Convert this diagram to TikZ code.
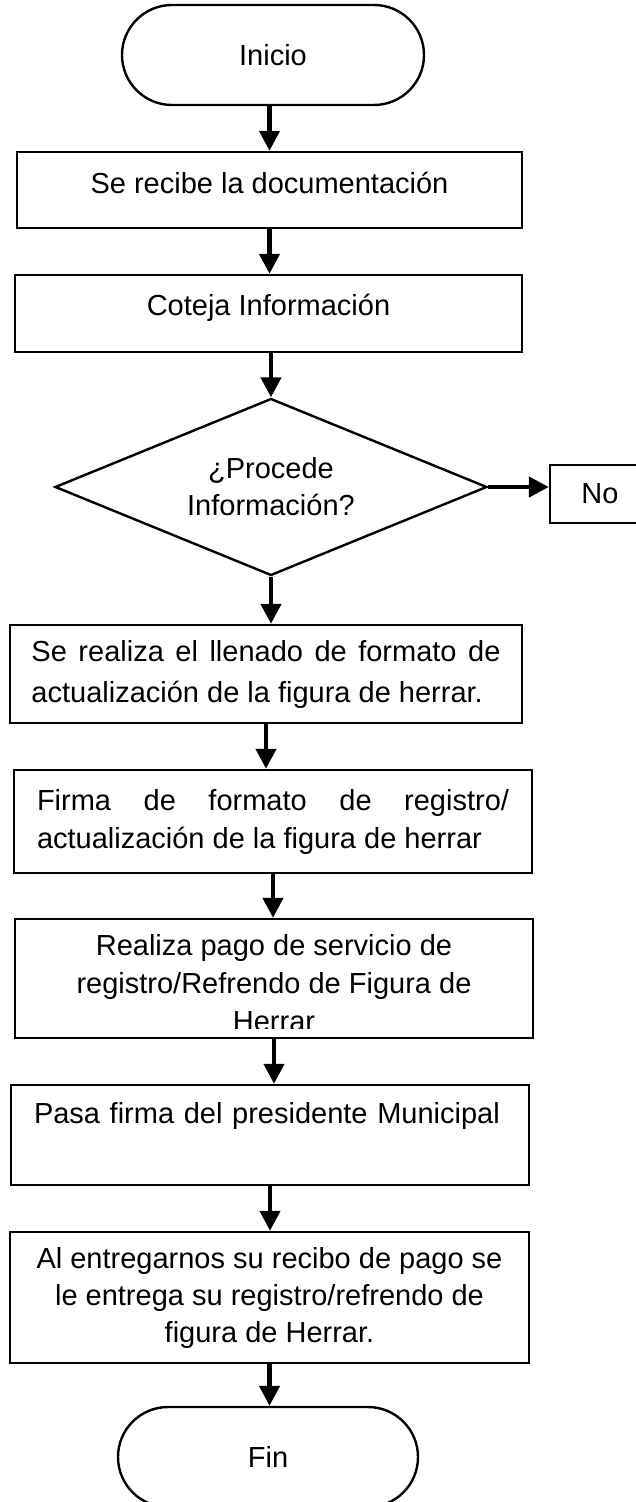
\documentclass[tikz,border=0pt]{standalone}
\usepackage{fontspec}
\setmainfont{Liberation Sans}
\usetikzlibrary{shapes.geometric, arrows.meta}
\hyphenpenalty=10000

\begin{document}
\begin{tikzpicture}[x=0.5pt, y=-0.5pt, >={Triangle[length=10pt, width=10pt]}]

        \tikzset{every node/.style={draw=black, line width=1.2pt, inner sep=2pt, font=\fontsize{14.5}{19}\selectfont},
                 terminal/.style={rectangle, rounded corners=25pt, minimum width=151pt, minimum height=50pt},
                 process/.style={rectangle, minimum width=259pt},
                 decision/.style={diamond, aspect=2.44, inner sep=0pt, minimum width=216pt, minimum height=88.5pt, align=center},
                 flow/.style={->, line width=2.2pt}}

        % page, same size as the scan
        \useasboundingbox (0, 0) rectangle (636, 1502);
        \fill[white] (0, 0) rectangle (636, 1502);

        % start
        \node (inicio) at (273, 55) [terminal] {Inicio};

        % first two steps, text sits a bit high in the box
        \node (recibe) at (269.5, 190) [process, minimum width=252.5pt, minimum height=38pt, text depth=7pt] {Se recibe la documentación};
        \node (coteja) at (268.5, 313.5) [process, minimum width=253.5pt, minimum height=38.5pt, text depth=8.7pt] {Coteja Información};

        % decision, and the no branch to the right
        \node (procede) at (271, 487) [decision, font=\fontsize{14.5}{18.5}\selectfont] {¿Procede\\Información?};
        \node (no) at (600, 494) [rectangle, minimum width=50pt, minimum height=29pt] {No};

        % justified two line boxes
        \node (llenado) at (266, 674) [process, minimum width=256pt, minimum height=49pt, text width=234.5pt, align=justify, font=\fontsize{14.5}{20.5}\selectfont] {Se realiza el llenado de formato de\linebreak actualización de la figura de herrar.};
        \node (firma) at (273, 821.5) [process, minimum width=259pt, minimum height=51.5pt, text width=236pt, align=justify, font=\fontsize{14.5}{19}\selectfont] {Firma de formato de registro/\linebreak actualización de la figura de herrar};

        % payment box, its last line is cut off above the border
        \node (pago) at (274, 978.5) [process, minimum height=59.5pt] {};
        \begin{scope}
            \clip (pago.north west) rectangle ([yshift=5.5pt]pago.south east);
            \node (pagotexto) at (274, 983) [draw=none, align=center] {Realiza pago de servicio de\\registro/Refrendo de Figura de\\Herrar};
        \end{scope}

        % signature, text at the top of the box
        \node (municipal) at (270, 1135) [process, minimum height=50pt, text width=236pt, align=left, text depth=22.5pt] {Pasa firma del presidente Municipal};

        % delivery
        \node (entrega) at (269.5, 1297.5) [process, minimum width=259.5pt, minimum height=65.5pt, align=center, font=\fontsize{14.5}{18.5}\selectfont] {Al entregarnos su recibo de pago se\\le entrega su registro/refrendo de\\figura de Herrar.};

        % end
        \node (fin) at (268, 1457) [terminal, minimum width=150pt] {Fin};

        % edges, straight down
        \draw[flow] (recibe.north |- inicio.south) -- (recibe.north);
        \draw[flow] (recibe.south) -- (recibe.south |- coteja.north);
        \draw[flow] (procede.north |- coteja.south) -- (procede.north);
        \draw[flow] (procede.south) -- (procede.south |- llenado.north);
        \draw[flow] (llenado.south) -- (llenado.south |- firma.north);
        \draw[flow] (firma.south) -- (firma.south |- pago.north);
        \draw[flow] (pago.south) -- (pago.south |- municipal.north);
        \draw[flow] (municipal.south) -- (municipal.south |- entrega.north);
        \draw[flow] (entrega.south) -- (entrega.south |- fin.north);

        % no branch
        \draw[flow] (procede.east) -- (procede.east -| no.west);

\end{tikzpicture}
\end{document}
